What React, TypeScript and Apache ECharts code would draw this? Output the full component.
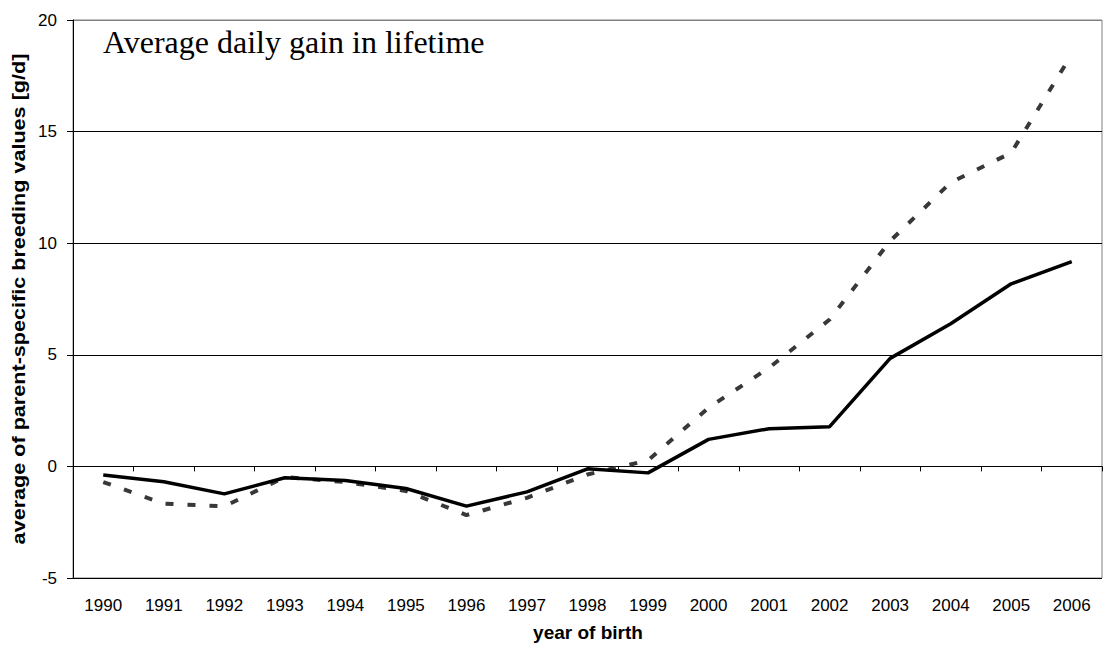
import React, { useEffect, useRef } from "react";
import * as echarts from "echarts";

const years = ["1990","1991","1992","1993","1994","1995","1996","1997","1998","1999","2000","2001","2002","2003","2004","2005","2006"];
const solidValues = [-0.39, -0.69, -1.23, -0.51, -0.63, -0.99, -1.78, -1.14, -0.11, -0.29, 1.21, 1.69, 1.78, 4.84, 6.39, 8.18, 9.17];
const dashedValues = [-0.70, -1.67, -1.79, -0.48, -0.70, -1.10, -2.18, -1.41, -0.36, 0.27, 2.63, 4.42, 6.58, 10.1, 12.72, 14.05, 18.46];
const yTicks = { min: -5, max: 20, interval: 5 };
const titleText = "Average daily gain in lifetime";
const xTitle = "year of birth";
const yTitle = "average of parent-specific breeding values [g/d]";

export default function App() {
  const ref = useRef<HTMLDivElement>(null);
  useEffect(() => {
    if (!ref.current) return;
    const chart = echarts.init(ref.current, null, { renderer: "svg" });
    chart.setOption({
      animation: false,
      backgroundColor: "#ffffff",
      grid: {
        left: 73, top: 20, right: 2, bottom: 72,
        show: true, borderColor: "#808080", borderWidth: 1, backgroundColor: "transparent",
      },
      xAxis: {
        type: "category",
        data: years,
        boundaryGap: true,
        axisLine: { lineStyle: { color: "#000", width: 1 } },
        axisTick: { show: true, length: 5, alignWithLabel: false, lineStyle: { color: "#000" } },
        axisLabel: { color: "#000", fontFamily: "Liberation Sans, Arial", fontSize: 17, margin: 19 },
        splitLine: { show: false },
      },
      yAxis: {
        type: "value",
        min: yTicks.min, max: yTicks.max, interval: yTicks.interval,
        axisLine: { show: true, lineStyle: { color: "#000", width: 1 } },
        axisTick: { show: true, length: 6, lineStyle: { color: "#000" } },
        axisLabel: { color: "#000", fontFamily: "Liberation Sans, Arial", fontSize: 17, margin: 16 },
        splitLine: { show: true, lineStyle: { color: ["#000", "#000", "#000", "#000", "#000", "#808080"], width: 1 } },
      },
      graphic: [
        {
          type: "text", left: 103, top: 26,
          style: { text: titleText, fontFamily: "Liberation Serif, Times New Roman", fontSize: 32, fill: "#000" },
        },
        {
          type: "text", x: 588, y: 632,
          style: { text: xTitle, fontFamily: "Liberation Sans, Arial", fontWeight: "bold", fontSize: 19, fill: "#000", align: "center", verticalAlign: "middle" },
        },
        {
          type: "text", x: 19, y: 299, rotation: Math.PI / 2, scaleX: 1.2,
          style: { text: yTitle, fontFamily: "Liberation Sans, Arial", fontWeight: "bold", fontSize: 18, fill: "#000", align: "center", verticalAlign: "middle" },
        },
      ],
      series: [
        {
          name: "Series 2", type: "line", data: dashedValues, symbol: "none",
          lineStyle: { color: "#383838", width: 4, type: [8, 14] },
          z: 2,
        },
        {
          name: "Series 1", type: "line", data: solidValues, symbol: "none",
          lineStyle: { color: "#000", width: 3.5 },
          z: 3,
        },
      ],
    });
    return () => chart.dispose();
  }, []);
  return <div ref={ref} style={{ position: "fixed", left: 0, top: 0, width: 1104, height: 650 }} />;
}
